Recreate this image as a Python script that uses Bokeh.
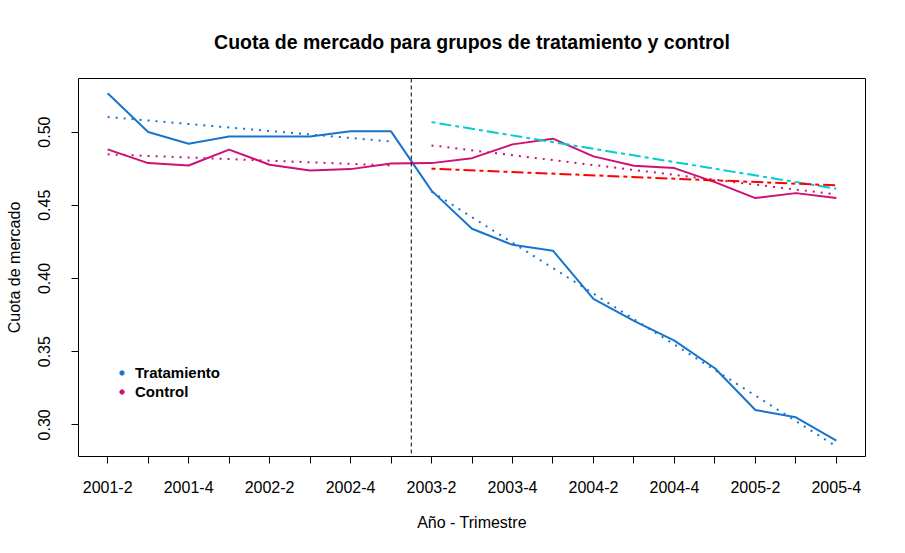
from bokeh.plotting import figure
from bokeh.models import Range1d, FixedTicker, NumeralTickFormatter, Span, Legend, LegendItem
from bokeh.embed import file_html
from bokeh.resources import INLINE

# ---------------- data ----------------
quarters = ["2001-2", "2001-3", "2001-4", "2002-1", "2002-2", "2002-3", "2002-4",
            "2003-1", "2003-2", "2003-3", "2003-4", "2004-1", "2004-2", "2004-3",
            "2004-4", "2005-1", "2005-2", "2005-3", "2005-4"]

tratamiento = [0.5265, 0.5000, 0.4920, 0.4970, 0.4970, 0.4970, 0.5005, 0.5005,
               0.4600, 0.4340, 0.4230, 0.4190, 0.3860, 0.3710, 0.3576, 0.3387,
               0.3102, 0.3052, 0.2893]
control = [0.4882, 0.4788, 0.4772, 0.4880, 0.4777, 0.4738, 0.4747, 0.4786,
           0.4788, 0.4822, 0.4916, 0.4955, 0.4834, 0.4770, 0.4754, 0.4658,
           0.4549, 0.4583, 0.4549]

# fitted trend lines (start / end values)
pre_idx = [0, 7]
post_idx = [8, 18]
trend_trat_pre = [0.5103, 0.4936]
trend_ctrl_pre = [0.4848, 0.4772]
trend_trat_post = [0.4593, 0.2852]
trend_ctrl_post = [0.4909, 0.4574]
trend_cyan_post = [0.5068, 0.4613]
trend_red_post = [0.4750, 0.4636]

intervention = 7.5
y_ticks = [0.30, 0.35, 0.40, 0.45, 0.50]

BLUE = "#1874CD"
MAGENTA = "#CD1076"
CYAN = "#00CDCD"
RED = "#FF0000"
FONT = "Liberation Sans"

idx = list(range(len(quarters)))

p = figure(width=889, height=537, output_backend="svg", toolbar_location=None,
           x_range=Range1d(-0.72, 18.72), y_range=Range1d(0.2784, 0.5366),
           min_border_left=78, min_border_right=24, min_border_top=78, min_border_bottom=81)
p.xgrid.visible = False
p.ygrid.visible = False
p.outline_line_color = "black"
p.outline_line_width = 1
p.background_fill_color = "white"
p.border_fill_color = "white"

p.title.text = "Cuota de mercado para grupos de tratamiento y control"
p.title.align = "center"
p.title.text_font = FONT
p.title.text_font_size = "19.5px"
p.title.text_font_style = "bold"
p.title.text_color = "black"
p.title.standoff = 52

# axes
xa = p.xaxis[0]
xa.ticker = FixedTicker(ticks=idx)
xa.major_label_overrides = {i: (q if i % 2 == 0 else "") for i, q in zip(idx, quarters)}
xa.axis_label = "Año - Trimestre"
ya = p.yaxis[0]
ya.ticker = FixedTicker(ticks=y_ticks)
ya.formatter = NumeralTickFormatter(format="0.00")
ya.major_label_orientation = "vertical"
ya.axis_label = "Cuota de mercado"
for ax in (xa, ya):
    ax.axis_line_color = None
    ax.major_tick_line_color = "black"
    ax.major_tick_in = 0
    ax.major_tick_out = 7
    ax.minor_tick_line_color = None
    ax.major_label_text_font = FONT
    ax.major_label_text_font_size = "16px"
    ax.major_label_text_color = "black"
    ax.axis_label_text_font = FONT
    ax.axis_label_text_font_size = "16px"
    ax.axis_label_text_font_style = "normal"
    ax.axis_label_text_color = "black"
xa.major_label_standoff = 17
xa.axis_label_standoff = 18
ya.major_label_standoff = 21
ya.axis_label_standoff = 13

# intervention line
p.add_layout(Span(location=intervention, dimension="height", line_color="black",
                  line_width=1, line_dash="4 3"))

# series
p.line(idx, tratamiento, line_color=BLUE, line_width=2)
p.line(idx, control, line_color=MAGENTA, line_width=2)
p.line(pre_idx, trend_trat_pre, line_color=BLUE, line_width=2, line_dash="2 6")
p.line(pre_idx, trend_ctrl_pre, line_color=MAGENTA, line_width=2, line_dash="2 6")
p.line(post_idx, trend_trat_post, line_color=BLUE, line_width=2, line_dash="2 6")
p.line(post_idx, trend_ctrl_post, line_color=MAGENTA, line_width=2, line_dash="2 6")
p.line(post_idx, trend_cyan_post, line_color=CYAN, line_width=2, line_dash="4 4 12 4")
p.line(post_idx, trend_red_post, line_color=RED, line_width=2, line_dash="4 4 12 4")

# legend (marker-only renderers, no visible data point)
nan = float("nan")
r_t = p.scatter([nan], [nan], color=BLUE, size=5)
r_c = p.scatter([nan], [nan], color=MAGENTA, size=5)
legend = Legend(items=[LegendItem(label="Tratamiento", renderers=[r_t]),
                       LegendItem(label="Control", renderers=[r_c])],
                location=(38, 55), border_line_color=None, background_fill_alpha=0,
                padding=0, margin=0, spacing=0, glyph_width=11, glyph_height=19,
                label_height=19, label_standoff=8,
                label_text_font=FONT, label_text_font_size="15px",
                label_text_font_style="bold", label_text_color="black")
p.add_layout(legend)

open("out.html", "w").write(file_html(p, INLINE))
